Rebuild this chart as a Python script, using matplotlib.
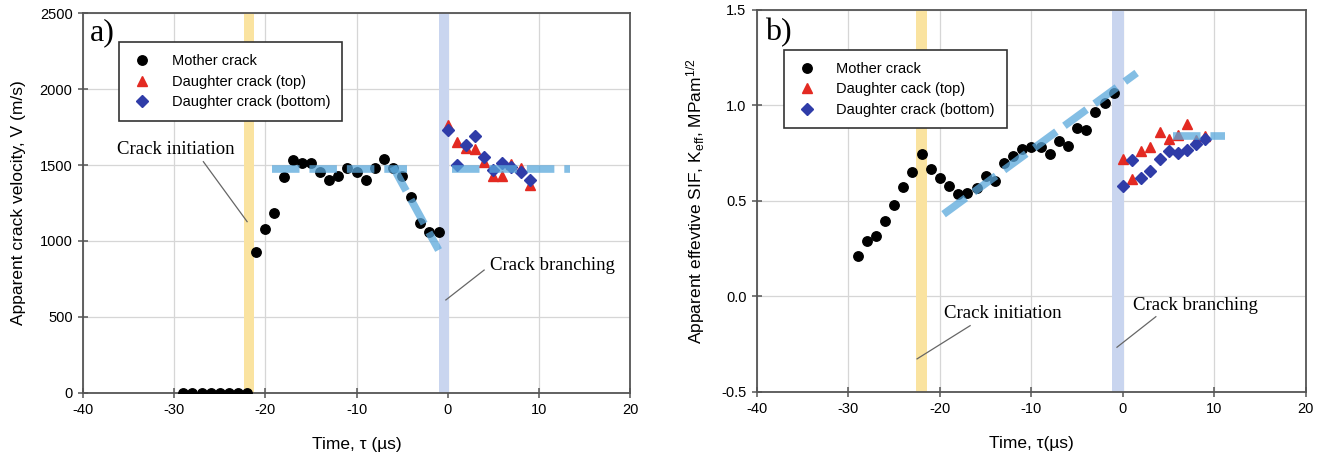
import matplotlib
matplotlib.use("Agg")
import matplotlib.pyplot as plt

plt.rcParams['font.family'] = ['Liberation Sans', 'DejaVu Sans']
plt.rcParams['axes.unicode_minus'] = False
plt.rcParams['mathtext.fontset'] = 'custom'
plt.rcParams['mathtext.rm'] = 'Liberation Sans'
plt.rcParams['mathtext.it'] = 'Liberation Sans:italic'

# ---- data ----
mother_t = list(range(-29, 0))
mother_v = [0, 0, 0, 0, 0, 0, 0, 0,
            926, 1079, 1186, 1423, 1533, 1511, 1511, 1456, 1401, 1428,
            1478, 1452, 1401, 1483, 1537, 1483, 1428, 1287, 1116, 1059, 1059]
mother_k = [0.213, 0.292, 0.318, 0.393, 0.480, 0.571, 0.650, 0.746,
            0.667, 0.620, 0.580, 0.536, 0.541, 0.568, 0.629, 0.606,
            0.699, 0.737, 0.769, 0.781, 0.781, 0.746, 0.816, 0.786,
            0.880, 0.872, 0.968, 1.011, 1.066]

daughter_t = list(range(0, 10))
top_v = [1763, 1654, 1614, 1605, 1522, 1428, 1428, 1507, 1478, 1368]
bottom_v = [1730, 1500, 1632, 1691, 1550, 1467, 1511, 1489, 1454, 1401]
top_k = [0.717, 0.614, 0.762, 0.780, 0.858, 0.823, 0.843, 0.900, 0.817, 0.840]
bottom_k = [0.578, 0.713, 0.622, 0.655, 0.718, 0.761, 0.753, 0.768, 0.800, 0.822]

# trend lines (dashed guides)
v_guides = [([-19.3, -4.5], [1474, 1474]),
            ([-6.0, -1.0], [1489, 940]),
            ([0.45, 13.4], [1474, 1474])]
k_guides = [([-19.6, 1.5], [0.43, 1.17]),
            ([5.5, 11.2], [0.842, 0.842])]

init_band = {'a': (-22.3, -21.2), 'b': (-22.6, -21.4)}
branch_band = {'a': (-1.0, 0.1), 'b': (-1.2, 0.1)}

RED = '#e32a22'
BLUE = '#2f3ca8'
GUIDE = '#5aa8dc'
SERIF = ['Liberation Serif', 'DejaVu Serif']

fig = plt.figure(figsize=(13.35, 4.65), dpi=100)
ax1 = fig.add_axes([0.0622, 0.1555, 0.4097, 0.816])
ax2 = fig.add_axes([0.567, 0.1576, 0.4112, 0.821])


def style(ax):
    ax.grid(True, color='#d6d6d6', lw=0.9, zorder=0)
    ax.set_axisbelow(True)
    for s in ax.spines.values():
        s.set_color('#555555')
        s.set_linewidth(1.3)
    ax.tick_params(direction='inout', length=7, width=1.1, color='#555555',
                   labelsize=10.5, pad=4)
    ax.set_xlim(-40, 20)
    ax.set_xticks([-40, -30, -20, -10, 0, 10, 20])


def draw(ax, key, y_m, y_top, y_bot, guides, labels):
    ax.axvspan(*init_band[key], color='#fae3a0', lw=0, zorder=1)
    ax.axvspan(*branch_band[key], color='#c9d5ef', lw=0, zorder=1)
    ax.plot(mother_t, y_m, 'o', color='black', ms=6.8, ls='none', zorder=3,
            label=labels[0])
    ax.plot(daughter_t, y_top, '^', color=RED, ms=6.5, ls='none', zorder=3,
            label=labels[1])
    ax.plot(daughter_t, y_bot, 'D', color=BLUE, ms=5.8, ls='none', zorder=3,
            label=labels[2])
    for gx, gy in guides:
        ln, = ax.plot(gx, gy, color=GUIDE, lw=5.5, alpha=0.75, zorder=4,
                      solid_capstyle='butt')
        ln.set_dashes((3.6, 1.3))


def add_legend(ax, anchor):
    leg = ax.legend(loc='upper left', bbox_to_anchor=anchor, borderaxespad=0,
                    fontsize=10.5, fancybox=False, edgecolor='#333333',
                    framealpha=1, handlelength=1.6, handletextpad=1.2,
                    borderpad=0.8, labelspacing=0.45)
    leg.get_frame().set_linewidth(1.2)
    leg.set_zorder(7)


# ---- panel a ----
style(ax1)
draw(ax1, 'a', mother_v, top_v, bottom_v, v_guides,
     ['Mother crack', 'Daughter crack (top)', 'Daughter crack (bottom)'])
ax1.set_ylim(0, 2500)
ax1.set_yticks([0, 500, 1000, 1500, 2000, 2500])
ax1.set_ylabel('Apparent crack velocity, V (m/s)', fontsize=12.5, labelpad=10)
ax1.set_xlabel('Time, \u03c4 (\u00b5s)', fontsize=12.5, labelpad=14)
ax1.text(-39.2, 2370, 'a)', family=SERIF, fontsize=23, va='center', zorder=6)
ax1.text(-36.3, 1600, 'Crack initiation', family=SERIF, fontsize=13.5,
         va='center', zorder=6)
ax1.plot([-26.8, -22.0], [1522, 1127], color='#666666', lw=0.9, zorder=5)
ax1.text(4.6, 841, 'Crack branching', family=SERIF, fontsize=13.5,
         va='center', zorder=6)
ax1.plot([4.0, -0.2], [808, 611], color='#666666', lw=0.9, zorder=5)
add_legend(ax1, (0.066, 0.923))

# ---- panel b ----
style(ax2)
draw(ax2, 'b', mother_k, top_k, bottom_k, k_guides,
     ['Mother crack', 'Daughter cack (top)', 'Daughter crack (bottom)'])
ax2.set_ylim(-0.5, 1.5)
ax2.set_yticks([-0.5, 0.0, 0.5, 1.0, 1.5])
ax2.set_yticklabels(['-0.5', '0.0', '0.5', '1.0', '1.5'])
ax2.set_ylabel(r'Apparent effevtive SIF, K$_{\mathrm{eff}}$, MPam$^{\mathrm{1/2}}$',
               fontsize=12.5, labelpad=10)
ax2.set_xlabel('Time, \u03c4(\u00b5s)', fontsize=12.5, labelpad=14)
ax2.text(-39.1, 1.38, 'b)', family=SERIF, fontsize=23, va='center', zorder=6)
ax2.text(-19.6, -0.09, 'Crack initiation', family=SERIF, fontsize=13.5,
         va='center', zorder=6)
ax2.plot([-16.7, -22.5], [-0.154, -0.328], color='#666666', lw=0.9, zorder=5)
ax2.text(1.1, -0.05, 'Crack branching', family=SERIF, fontsize=13.5,
         va='center', zorder=6)
ax2.plot([3.6, -0.65], [-0.107, -0.267], color='#666666', lw=0.9, zorder=5)
add_legend(ax2, (0.049, 0.895))

fig.savefig('out.png', dpi=100)
